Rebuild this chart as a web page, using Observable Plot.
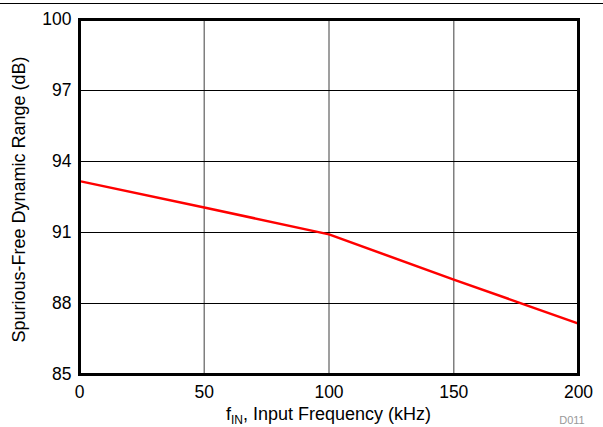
<!DOCTYPE html>
<html>
<head>
<meta charset="utf-8">
<script src="https://cdn.jsdelivr.net/npm/d3@7"></script>
<script src="https://cdn.jsdelivr.net/npm/@observablehq/plot@0.6"></script>
<style>
  body { margin: 0; background: #fff; }
  #wrap { position: relative; width: 603px; height: 427px; overflow: hidden; }
  #topline { position: absolute; left: 0; top: 3px; width: 603px; height: 0; border-top: 1.5px solid #000; }
  #chart { position: absolute; left: 0; top: 0; }
</style>
</head>
<body>
<div id="wrap"><div id="topline"></div><div id="chart"></div></div>
<script>
const freqKHz = [1, 50, 100, 150, 175, 200];
const sfdrDB = [93.15, 92.06, 90.92, 89.01, 88.08, 87.15];
const xTicks = [0, 50, 100, 150, 200];
const yTicks = [85, 88, 91, 94, 97, 100];
const yLabel = "Spurious-Free Dynamic Range (dB)";
const xLabelParts = ["f", "IN", ", Input Frequency (kHz)"];
const codeLabel = "D011";

const data = freqKHz.map((f, i) => ({f, v: sfdrDB[i]}));

const W = 603, H = 427, mL = 79, mR = 25, mT = 19, mB = 53;
const font = "Liberation Sans, Arial, sans-serif";

const plot = Plot.plot({
  width: W, height: H,
  marginLeft: mL, marginRight: mR, marginTop: mT, marginBottom: mB,
  style: {fontFamily: font, fontSize: "17.5px", background: "transparent", color: "#000"},
  x: {domain: [0, 200], ticks: xTicks, label: null},
  y: {domain: [85, 100], ticks: yTicks, label: null},
  marks: [
    Plot.ruleX(xTicks.slice(1, -1), {stroke: "#7f7f7f", strokeWidth: 1.5}),
    Plot.ruleY(yTicks.slice(1, -1), {stroke: "#000", strokeWidth: 1}),
    Plot.line(data, {x: "f", y: "v", stroke: "#ff0000", strokeWidth: 2.5}),
    Plot.frame({stroke: "#000", strokeWidth: 3}),
    Plot.axisX({ticks: xTicks, tickSize: 0, tickPadding: 11, fontSize: 17.5, label: null}),
    Plot.axisY({ticks: yTicks, tickSize: 0, tickPadding: 8, fontSize: 17.5, label: null})
  ]
});

document.getElementById("chart").appendChild(plot);
const svg = d3.select(plot);

svg.append("text")
  .attr("transform", `translate(25, ${(mT + H - mB) / 2 + 3}) rotate(-90)`)
  .attr("text-anchor", "middle")
  .attr("font-family", font).attr("font-size", 18)
  .text(yLabel);

const xl = svg.append("text")
  .attr("x", (mL + W - mR) / 2).attr("y", 420)
  .attr("text-anchor", "middle")
  .attr("font-family", font).attr("font-size", 18);
xl.append("tspan").text(xLabelParts[0]);
xl.append("tspan").attr("font-size", 12).attr("dy", 4).text(xLabelParts[1]);
xl.append("tspan").attr("dy", -4).text(xLabelParts[2]);

svg.append("text")
  .attr("x", 572).attr("y", 424)
  .attr("font-family", font).attr("font-size", 11)
  .attr("fill", "#999")
  .text(codeLabel);
</script>
</body>
</html>
